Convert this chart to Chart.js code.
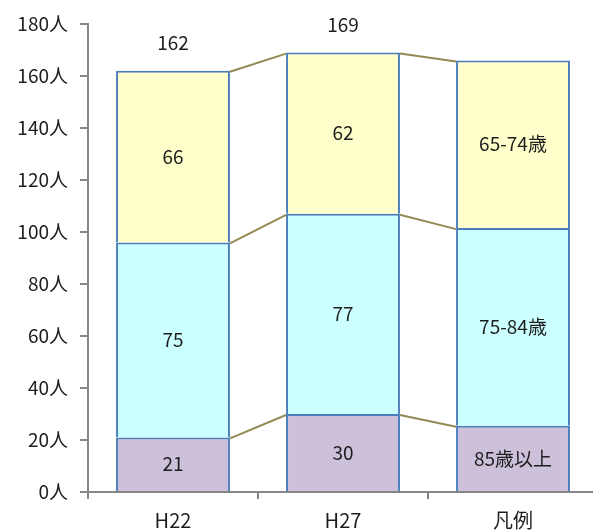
<!DOCTYPE html>
<html><head><meta charset="utf-8">
<script src="https://cdn.jsdelivr.net/npm/chart.js@4.4.1/dist/chart.umd.min.js"></script>
<style>html,body{margin:0;padding:0;overflow:hidden;background:#fff}#wrap{width:600px;height:532px}</style>
</head><body><div id="wrap"><canvas id="c" width="600" height="532"></canvas></div>
<script>
const categories = ['H22', 'H27', '凡例'];
const seriesNames = ['85歳以上', '75-84歳', '65-74歳'];
const s85 = [21, 30, 25.5];
const s75 = [75, 77, 76];
const s65 = [66, 62, 64.5];
const totals = ['162', '169', ''];
const yTicks = [0, 20, 40, 60, 80, 100, 120, 140, 160, 180];
const legendIndex = 2;

const FONT = '"Noto Sans CJK JP", "Noto Sans", sans-serif';
const TXT = '#1e1e1e';

const labelPlugin = {
  id: 'labels',
  afterDatasetsDraw(chart) {
    const ctx = chart.ctx;
    ctx.save();
    ctx.strokeStyle = '#948A54';
    ctx.lineWidth = 2;
    chart.data.datasets.forEach((ds, di) => {
      const meta = chart.getDatasetMeta(di);
      for (let j = 0; j < meta.data.length - 1; j++) {
        const a = meta.data[j], b = meta.data[j + 1];
        ctx.beginPath();
        ctx.moveTo(a.x + a.width / 2, a.y + 1);
        ctx.lineTo(b.x - b.width / 2, b.y + 1);
        ctx.stroke();
      }
    });
    ctx.fillStyle = TXT;
    ctx.textAlign = 'center';
    ctx.textBaseline = 'middle';
    ctx.font = '19px ' + FONT;
    chart.data.datasets.forEach((ds, di) => {
      const meta = chart.getDatasetMeta(di);
      meta.data.forEach((el, j) => {
        const cy = (el.y + el.base) / 2;
        const txt = j === legendIndex ? seriesNames[di] : String(ds.data[j]);
        ctx.fillText(txt, el.x, cy);
      });
    });
    const top = chart.getDatasetMeta(chart.data.datasets.length - 1);
    top.data.forEach((el, j) => {
      if (totals[j]) ctx.fillText(totals[j], el.x, el.y - 28);
    });
    ctx.restore();
  }
};

const mk = (label, data, color) => ({
  label, data, backgroundColor: color, borderColor: '#4A7EBB',
  borderWidth: { top: 2, left: 2, right: 2, bottom: 0 },
  borderSkipped: false, categoryPercentage: 1, barPercentage: 0.67
});

new Chart(document.getElementById('c'), {
  type: 'bar',
  data: {
    labels: categories,
    datasets: [
      mk(seriesNames[0], s85, '#CCC0DA'),
      mk(seriesNames[1], s75, '#CCFFFF'),
      mk(seriesNames[2], s65, '#FFFFCC')
    ]
  },
  options: {
    responsive: false,
    animation: false,
    layout: { padding: { top: 24, right: 2, bottom: 0, left: 0 } },
    plugins: { legend: { display: false }, tooltip: { enabled: false } },
    scales: {
      x: {
        stacked: true,
        afterFit(ax) { ax.height = 40; },
        grid: { display: true, drawOnChartArea: false, drawTicks: true, tickLength: 7, color: '#868686', lineWidth: 2, offset: true },
        border: { color: '#868686', width: 2 },
        ticks: { color: TXT, font: { family: FONT, size: 20 }, padding: 9 }
      },
      y: {
        stacked: true, min: 0, max: 180,
        afterFit(ax) { ax.width = 88; },
        afterBuildTicks(ax) { ax.ticks = yTicks.map(v => ({ value: v })); },
        grid: { display: true, drawOnChartArea: false, drawTicks: true, tickLength: 8, color: '#868686', lineWidth: 2 },
        border: { color: '#868686', width: 2 },
        ticks: { color: TXT, font: { family: FONT, size: 19 }, padding: 12, callback: v => v + '人' }
      }
    }
  },
  plugins: [labelPlugin]
});
</script></body></html>
